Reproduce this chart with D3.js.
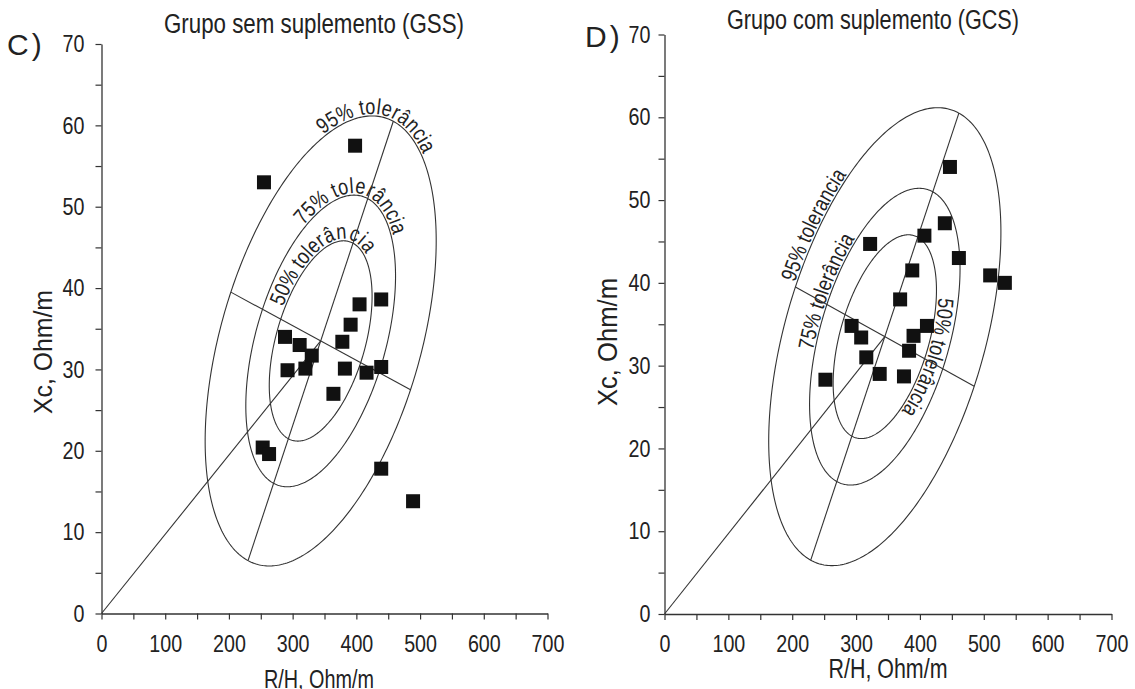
<!DOCTYPE html>
<html>
<head>
<meta charset="utf-8">
<script src="https://cdn.jsdelivr.net/npm/d3@7"></script>
<style>
  body { margin: 0; background: #fff; }
  svg { display: block; }
  text { font-family: "Liberation Sans", Arial, sans-serif; fill: #222; }
</style>
</head>
<body>
<svg id="chart" width="1135" height="689"></svg>
<script>
// ---- axis ticks ----
const xTickValues = d3.range(0, 701, 50);   // labelled every 100
const yTickValues = d3.range(0, 71, 5);     // labelled every 10

// ---- Grupo sem suplemento (GSS) ----
const gssRH = [255, 398, 288, 311, 330, 292, 320, 378, 391, 405, 439, 382, 416, 439, 364, 253, 263, 439, 489];
const gssXc = [53.0, 57.5, 34.0, 33.0, 31.7, 29.9, 30.1, 33.4, 35.5, 38.0, 38.6, 30.1, 29.6, 30.3, 27.0, 20.4, 19.6, 17.8, 13.8];

// ---- Grupo com suplemento (GCS) ----
const gcsRH = [447, 439, 407, 322, 461, 510, 533, 388, 369, 293, 308, 316, 252, 337, 375, 383, 390, 411];
const gcsXc = [54.0, 47.2, 45.7, 44.7, 43.0, 40.9, 40.0, 41.5, 38.0, 34.8, 33.4, 31.0, 28.3, 29.0, 28.7, 31.8, 33.6, 34.8];

// ---- tolerance ellipses (reference population) ----
// centre and conjugate semi-axes of the 95% ellipse, in data units
const gssCentre = [344, 33.5], gssMajor = [114, 27], gssMinor = [141, -6];
const gcsCentre = [345, 33.5], gcsMajor = [116, 27], gcsMinor = [140, -6];
const toleranceScale = [1, 0.648, 0.445];           // 95%, 75%, 50%
const gssLabels = ["95% tolerância", "75% tolerância", "50% tolerância"];
const gcsLabels = ["95% tolerancia", "75% tolerância", "50% tolerância"];

const NARROW = 0.82;   // condensed look of the lettering

const svg = d3.select("#chart");
const defs = svg.append("defs");

// squeeze text horizontally to a condensed width (or to an explicit length)
function condense(sel, factor, length) {
  sel.each(function () {
    const len = this.getComputedTextLength();
    if (len > 0) {
      this.setAttribute("textLength", length || len * factor);
      this.setAttribute("lengthAdjust", "spacingAndGlyphs");
    }
  });
}

const panels = [
  {
    id: "gss", letter: "C)", title: "Grupo sem suplemento (GSS)",
    rh: gssRH, xc: gssXc, centre: gssCentre, major: gssMajor, minor: gssMinor, labels: gssLabels,
    left: 101.5, right: 547.5, bottom: 613.5, top: 44,
    labelStart: [-37, -51, -83],
    titleX: 314, titleY: 33, titleLen: 300, letterX: 7, letterY: 55,
    yLabelX: 52, yLabelY: 352, yLabelLen: 124, xLabelX: 319, xLabelY: 688, xLabelLen: 110,
    yPad: 11, tickFont: 24, axisFont: 26
  },
  {
    id: "gcs", letter: "D)", title: "Grupo com suplemento (GCS)",
    rh: gcsRH, xc: gcsXc, centre: gcsCentre, major: gcsMajor, minor: gcsMinor, labels: gcsLabels,
    left: 664.5, right: 1111.5, bottom: 614, top: 34.5,
    labelStart: [-89, -108, 55],
    titleX: 873, titleY: 29, titleLen: 292, letterX: 585, letterY: 47,
    yLabelX: 617, yLabelY: 342, yLabelLen: 128, xLabelX: 888, xLabelY: 678, xLabelLen: 119,
    yPad: 8, tickFont: 24, axisFont: 27
  }
];

panels.forEach(drawPanel);

function drawPanel(p) {
  const x = d3.scaleLinear().domain([0, 700]).range([p.left, p.right]);
  const y = d3.scaleLinear().domain([0, 70]).range([p.bottom, p.top]);
  const g = svg.append("g");

  // axes
  const xAxis = d3.axisBottom(x).tickValues(xTickValues).tickSize(6).tickSizeOuter(0).tickPadding(15)
    .tickFormat(d => d % 100 === 0 ? d : "");
  const yAxis = d3.axisLeft(y).tickValues(yTickValues).tickSize(6).tickSizeOuter(0).tickPadding(p.yPad)
    .tickFormat(d => d % 10 === 0 ? d : "");

  const gx = g.append("g").attr("transform", `translate(0,${y(0)})`).call(xAxis);
  const gy = g.append("g").attr("transform", `translate(${x(0)},0)`).call(yAxis);
  [gx, gy].forEach(a => {
    a.select(".domain").attr("stroke", "#333").attr("stroke-width", 1.3);
    a.selectAll(".tick line").attr("stroke", "#333").attr("stroke-width", 1.2);
    a.selectAll(".tick text").attr("font-size", p.tickFont).attr("fill", "#222")
      .style("font-family", '"Liberation Sans",Arial,sans-serif');
    condense(a.selectAll(".tick text"), NARROW);
  });

  // ellipse geometry
  const [cx, cy] = p.centre;
  const pt = (t, k) => {
    const r = t * Math.PI / 180;
    return [
      x(cx + k * (Math.cos(r) * p.major[0] + Math.sin(r) * p.minor[0])),
      y(cy + k * (Math.cos(r) * p.major[1] + Math.sin(r) * p.minor[1]))
    ];
  };
  const line = d3.line();

  toleranceScale.forEach((k, i) => {
    const ring = d3.range(0, 360, 1).map(t => pt(t, k));
    g.append("path").attr("d", line(ring) + "Z")
      .attr("fill", "none").attr("stroke", "#333").attr("stroke-width", 1.1);

    // path that the tolerance label follows
    const arc = d3.range(p.labelStart[i], p.labelStart[i] + 200, 1).map(t => pt(t, k));
    defs.append("path").attr("id", `${p.id}-tol-${i}`).attr("d", line(arc));
    const tp = g.append("text").attr("font-size", 22).attr("dy", -2)
      .append("textPath").attr("href", `#${p.id}-tol-${i}`).text(p.labels[i]);
    condense(tp, NARROW);
  });

  // principal axes of the ellipse and the line from the origin to its centre
  const axesLines = [
    [[0, 0], [cx, cy]],
    [[cx - p.major[0], cy - p.major[1]], [cx + p.major[0], cy + p.major[1]]],
    [[cx - p.minor[0], cy - p.minor[1]], [cx + p.minor[0], cy + p.minor[1]]]
  ];
  g.selectAll(".ref-line").data(axesLines).join("line").attr("class", "ref-line")
    .attr("x1", d => x(d[0][0])).attr("y1", d => y(d[0][1]))
    .attr("x2", d => x(d[1][0])).attr("y2", d => y(d[1][1]))
    .attr("stroke", "#333").attr("stroke-width", 1.1);

  // subjects
  const s = 14;
  g.selectAll(".pt").data(p.rh.map((v, i) => [v, p.xc[i]])).join("rect").attr("class", "pt")
    .attr("x", d => x(d[0]) - s / 2).attr("y", d => y(d[1]) - s / 2)
    .attr("width", s).attr("height", s).attr("fill", "#111");

  // titles
  condense(g.append("text").attr("x", p.titleX).attr("y", p.titleY).attr("text-anchor", "middle")
    .attr("font-size", 27).text(p.title), 1, p.titleLen);
  g.append("text").attr("x", p.letterX).attr("y", p.letterY)
    .attr("font-size", 30).attr("letter-spacing", 3).text(p.letter);
  condense(g.append("text").attr("transform", `translate(${p.yLabelX},${p.yLabelY}) rotate(-90)`)
    .attr("text-anchor", "middle").attr("font-size", p.axisFont).text("Xc, Ohm/m"), 1, p.yLabelLen);
  condense(g.append("text").attr("x", p.xLabelX).attr("y", p.xLabelY).attr("text-anchor", "middle")
    .attr("font-size", p.axisFont).text("R/H, Ohm/m"), 1, p.xLabelLen);
}
</script>
</body>
</html>
